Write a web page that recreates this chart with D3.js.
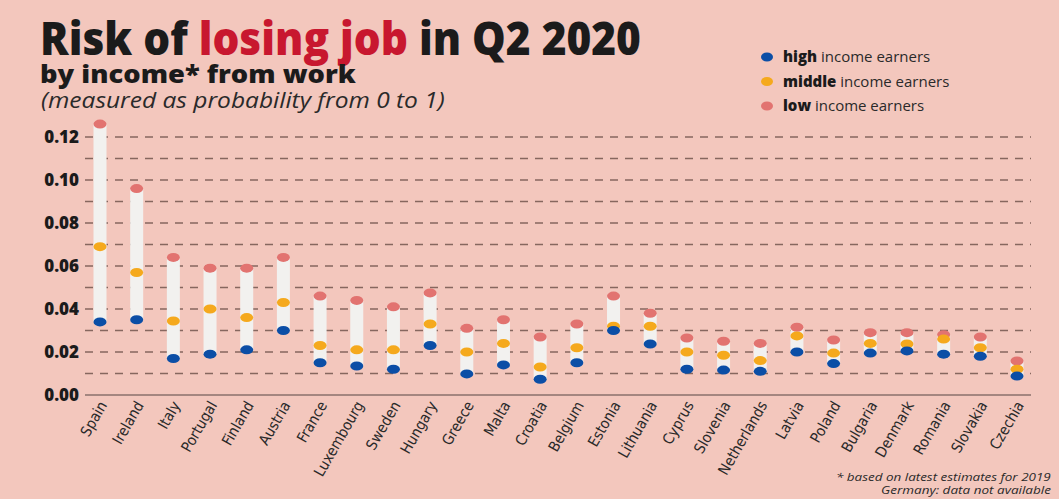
<!DOCTYPE html>
<html>
<head>
<meta charset="utf-8">
<script src="https://cdn.jsdelivr.net/npm/d3@7"></script>
<style>
  html, body { margin: 0; padding: 0; background: #f3c7bd; }
  svg { display: block; }
</style>
</head>
<body>
<div id="chart"></div>
<script>
// data
var countries = ["Spain", "Ireland", "Italy", "Portugal", "Finland", "Austria", "France",
  "Luxembourg", "Sweden", "Hungary", "Greece", "Malta", "Croatia", "Belgium", "Estonia",
  "Lithuania", "Cyprus", "Slovenia", "Netherlands", "Latvia", "Poland", "Bulgaria",
  "Denmark", "Romania", "Slovakia", "Czechia"];
var highIncome = [0.034, 0.035, 0.017, 0.019, 0.021, 0.030, 0.015, 0.0135, 0.012, 0.023,
  0.0098, 0.014, 0.0073, 0.015, 0.030, 0.0237, 0.012, 0.0116, 0.011, 0.020, 0.0146,
  0.0195, 0.0205, 0.019, 0.018, 0.0088];
var middleIncome = [0.069, 0.057, 0.0344, 0.040, 0.036, 0.043, 0.023, 0.021, 0.021, 0.033,
  0.020, 0.024, 0.013, 0.022, 0.032, 0.032, 0.020, 0.0185, 0.016, 0.0275, 0.0195,
  0.024, 0.0237, 0.026, 0.022, 0.012];
var lowIncome = [0.126, 0.096, 0.064, 0.059, 0.059, 0.064, 0.046, 0.044, 0.041, 0.0475,
  0.031, 0.035, 0.027, 0.033, 0.046, 0.038, 0.0265, 0.025, 0.024, 0.0315, 0.0256,
  0.029, 0.029, 0.028, 0.027, 0.0158];
var yTicks = [0, 0.02, 0.04, 0.06, 0.08, 0.10, 0.12];
var gridLines = d3.range(1, 13).map(function(d) { return d / 100; });

var legendItems = [
  {bold: "high", rest: " income earners", color: "#0b4ea6"},
  {bold: "middle", rest: " income earners", color: "#f5a91d"},
  {bold: "low", rest: " income earners", color: "#e27370"}
];
var colors = {high: "#0b4ea6", middle: "#f5a91d", low: "#e27370"};

var width = 1059, height = 499;

var svg = d3.select("#chart").append("svg")
  .attr("width", width)
  .attr("height", height);

svg.append("rect")
  .attr("width", width)
  .attr("height", height)
  .attr("fill", "#f3c7bd");

var x = d3.scalePoint()
  .domain(countries)
  .range([100, 1017]);

var y = d3.scaleLinear()
  .domain([0, 0.12])
  .range([395, 137]);

// squeeze a text element horizontally to a target width
function fitWidth(sel, x0, target) {
  var w = sel.node().getComputedTextLength();
  var k = target / w;
  sel.attr("transform", "translate(" + x0 + ",0) scale(" + k + ",1) translate(" + (-x0) + ",0)");
}

// titles
var title = svg.append("text")
  .attr("x", 40)
  .attr("y", 55)
  .attr("font-family", "'Open Sans', sans-serif")
  .attr("font-weight", 800)
  .attr("font-size", "46px")
  .attr("fill", "#1b1b1b");
title.append("tspan").text("Risk of ");
title.append("tspan").attr("fill", "#c8172f").text("losing job");
title.append("tspan").text(" in Q2 2020");
fitWidth(title, 40, 601);

var sub = svg.append("text")
  .attr("x", 40)
  .attr("y", 83)
  .attr("font-family", "'Open Sans', sans-serif")
  .attr("font-weight", 800)
  .attr("font-size", "24px")
  .attr("fill", "#1b1b1b")
  .text("by income* from work");
fitWidth(sub, 40, 316);

var sub2 = svg.append("text")
  .attr("x", 41)
  .attr("y", 108)
  .attr("font-family", "'Open Sans', sans-serif")
  .attr("font-style", "italic")
  .attr("font-size", "21px")
  .attr("fill", "#2a2a2a")
  .text("(measured as probability from 0 to 1)");
fitWidth(sub2, 41, 404);

// legend
var legend = svg.append("g");
legendItems.forEach(function(d, i) {
  var ly = 57 + i * 24.5;
  legend.append("ellipse")
    .attr("cx", 767)
    .attr("cy", ly)
    .attr("rx", 6)
    .attr("ry", 4.5)
    .attr("fill", d.color);
  var t = legend.append("text")
    .attr("x", 783)
    .attr("y", ly + 5)
    .attr("font-family", "'Open Sans', sans-serif")
    .attr("font-size", "15px")
    .attr("fill", "#2a2a2a");
  t.append("tspan").attr("font-weight", 800).attr("fill", "#1b1b1b").text(d.bold);
  t.append("tspan").text(d.rest);
});

// gridlines
svg.append("g")
  .selectAll("line")
  .data(gridLines)
  .enter()
  .append("line")
  .attr("x1", 85)
  .attr("x2", 1031)
  .attr("y1", function(d) { return y(d); })
  .attr("y2", function(d) { return y(d); })
  .attr("stroke", "#86675f")
  .attr("stroke-width", 1.3)
  .attr("stroke-dasharray", "8,7");

// baseline
svg.append("line")
  .attr("x1", 85)
  .attr("x2", 1031)
  .attr("y1", y(0))
  .attr("y2", y(0))
  .attr("stroke", "#8a716c")
  .attr("stroke-width", 1.6);

// y axis labels
var yAxis = d3.axisLeft(y)
  .tickValues(yTicks)
  .tickFormat(d3.format(".2f"))
  .tickSize(0)
  .tickPadding(0);
var yg = svg.append("g")
  .attr("transform", "translate(79,0)")
  .call(yAxis);
yg.select(".domain").remove();
yg.selectAll("text")
  .attr("font-family", "'Open Sans', sans-serif")
  .attr("font-weight", 800)
  .attr("font-size", "17px")
  .attr("fill", "#1b1b1b");

// x axis labels
var xAxis = d3.axisBottom(x).tickSize(0).tickPadding(0);
var xg = svg.append("g")
  .attr("transform", "translate(0," + y(0) + ")")
  .call(xAxis);
xg.select(".domain").remove();
xg.selectAll("text")
  .attr("font-family", "'Liberation Sans Narrow', 'DejaVu Sans Condensed', 'Roboto', sans-serif")
  .attr("font-size", "15px")
  .attr("fill", "#2a2a2a")
  .attr("text-anchor", "end")
  .attr("dy", null)
  .attr("y", 0)
  .attr("transform", "translate(7,10) rotate(-60)");

// range bars
var rows = countries.map(function(c, i) {
  return {c: c, high: highIncome[i], middle: middleIncome[i], low: lowIncome[i]};
});

svg.append("g")
  .selectAll("rect")
  .data(rows)
  .enter()
  .append("rect")
  .attr("x", function(d) { return x(d.c) - 6.5; })
  .attr("width", 13)
  .attr("y", function(d) { return y(Math.max(d.high, d.middle, d.low)); })
  .attr("height", function(d) {
    return y(Math.min(d.high, d.middle, d.low)) - y(Math.max(d.high, d.middle, d.low));
  })
  .attr("fill", "#f2f1ef");

["low", "middle", "high"].forEach(function(key) {
  svg.append("g")
    .selectAll("ellipse")
    .data(rows)
    .enter()
    .append("ellipse")
    .attr("cx", function(d) { return x(d.c); })
    .attr("cy", function(d) { return y(d[key]); })
    .attr("rx", 6.5)
    .attr("ry", 4.5)
    .attr("fill", colors[key]);
});

// footnote
var foot = svg.append("g")
  .attr("font-family", "'Open Sans', sans-serif")
  .attr("font-style", "italic")
  .attr("font-size", "11.5px")
  .attr("fill", "#2a2a2a");
var f1 = foot.append("text").attr("x", 836).attr("y", 481).text("* based on latest estimates for 2019");
fitWidth(f1, 836, 215);
var f2 = foot.append("text").attr("x", 881).attr("y", 494).text("Germany: data not available");
fitWidth(f2, 881, 170);
</script>
</body>
</html>
